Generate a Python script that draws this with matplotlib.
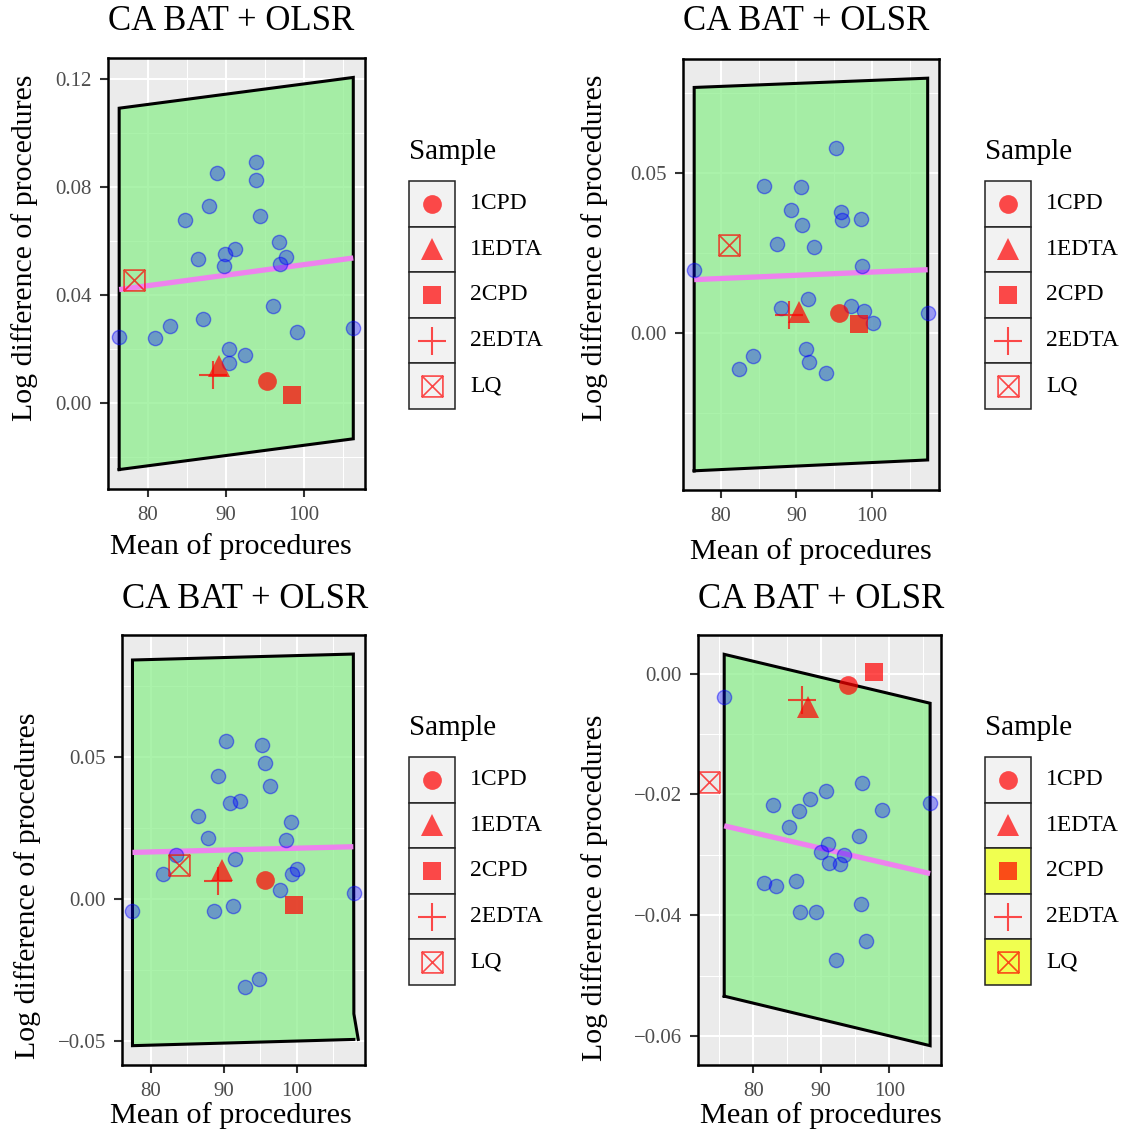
import matplotlib
matplotlib.use('Agg')
import matplotlib.pyplot as plt
from matplotlib.path import Path
from matplotlib.patches import Polygon, Rectangle
from matplotlib.ticker import FixedLocator, MultipleLocator

plt.rcParams['font.family'] = ['Liberation Serif', 'DejaVu Serif']

TITLE = "CA BAT + OLSR"
XLABEL = "Mean of procedures"
YLABEL = "Log difference of procedures"
LEGEND_TITLE = "Sample"
samples = ["1CPD", "1EDTA", "2CPD", "2EDTA", "LQ"]

# ---------------- panel 1 ----------------
p1_x = [76.3, 80.9, 82.8, 84.8, 86.4, 87.0, 87.8, 88.9, 89.8, 89.9, 91.1, 90.4,
        90.4, 92.5, 93.8, 93.8, 94.4, 96.0, 96.8, 96.9, 97.7, 99.1, 106.3]
p1_y = [0.0243, 0.0240, 0.0284, 0.0677, 0.0534, 0.0309, 0.0729, 0.0852, 0.0505,
        0.0549, 0.0569, 0.0198, 0.0148, 0.0178, 0.0892, 0.0825, 0.0692, 0.0357,
        0.0594, 0.0512, 0.0541, 0.0260, 0.0277]
p1_sx = [95.3, 89.1, 98.4, 88.3, 78.2]
p1_sy = [0.0080, 0.0136, 0.0029, 0.0103, 0.0455]
p1_band_x = [76.33, 76.33, 106.3, 106.3, 76.33]
p1_band_y = [-0.0248, 0.1091, 0.1205, -0.0134, -0.0248]
p1_fit_x = [76.33, 106.3]
p1_fit_y = [0.0419, 0.0536]
p1_xlim = [74.9, 107.8]
p1_ylim = [-0.0320, 0.1277]
p1_yticks = [0.00, 0.04, 0.08, 0.12]
p1_flag = [False, False, False, False, False]

# ---------------- panel 2 ----------------
p2_x = [76.5, 82.4, 84.3, 85.7, 87.5, 88.0, 89.3, 90.6, 90.8, 91.5, 91.3, 91.7,
        92.4, 93.9, 95.3, 95.9, 96.0, 97.3, 98.6, 98.7, 99.0, 100.2, 107.4]
p2_y = [0.0198, -0.0112, -0.0073, 0.0459, 0.0278, 0.0079, 0.0385, 0.0457, 0.0338,
        0.0107, -0.0050, -0.0090, 0.0270, -0.0126, 0.0579, 0.0377, 0.0352, 0.0084,
        0.0358, 0.0210, 0.0069, 0.0032, 0.0062]
p2_sx = [95.6, 90.3, 98.3, 89.1, 81.1]
p2_sy = [0.0062, 0.0066, 0.0028, 0.0057, 0.0276]
p2_band_x = [76.48, 76.48, 107.4, 107.4, 76.48]
p2_band_y = [-0.0431, 0.0768, 0.0797, -0.0397, -0.0431]
p2_fit_x = [76.48, 107.4]
p2_fit_y = [0.0167, 0.0198]
p2_xlim = [75.0, 108.9]
p2_ylim = [-0.0491, 0.0857]
p2_yticks = [0.00, 0.05]
p2_flag = [False, False, False, False, False]

# ---------------- panel 3 ----------------
p3_x = [77.4, 81.6, 83.4, 86.5, 87.8, 88.6, 89.2, 90.3, 90.9, 92.2, 91.5, 91.2,
        92.9, 94.8, 95.3, 95.6, 96.3, 97.7, 98.5, 99.2, 99.4, 100.0, 107.9]
p3_y = [-0.0041, 0.0089, 0.0155, 0.0292, 0.0214, -0.0043, 0.0432, 0.0555, 0.0337,
        0.0345, 0.0140, -0.0024, -0.0311, -0.0283, 0.0542, 0.0477, 0.0398, 0.0030,
        0.0209, 0.0271, 0.0087, 0.0106, 0.0022]
p3_sx = [95.7, 89.8, 99.7, 89.2, 83.9]
p3_sy = [0.0066, 0.0102, -0.0021, 0.0062, 0.0118]
p3_band_x = [107.87, 77.44, 77.44, 107.8, 107.87, 108.47]
p3_band_y = [-0.0494, -0.0516, 0.0841, 0.0862, -0.0404, -0.0494]
p3_fit_x = [77.44, 107.8]
p3_fit_y = [0.0164, 0.0184]
p3_xlim = [76.0, 109.4]
p3_ylim = [-0.0584, 0.0929]
p3_yticks = [-0.05, 0.00, 0.05]
p3_flag = [False, False, False, False, False]

# ---------------- panel 4 ----------------
p4_x = [75.7, 81.6, 82.9, 83.3, 85.3, 86.3, 86.7, 86.9, 88.4, 89.3, 89.9, 90.7,
        91.0, 91.1, 92.2, 92.8, 93.3, 95.6, 96.0, 95.9, 96.6, 99.0, 106.0]
p4_y = [-0.0039, -0.0347, -0.0217, -0.0352, -0.0254, -0.0344, -0.0227, -0.0395,
        -0.0207, -0.0395, -0.0296, -0.0194, -0.0282, -0.0314, -0.0474, -0.0316,
        -0.0300, -0.0268, -0.0181, -0.0382, -0.0442, -0.0226, -0.0214]
p4_sx = [94.0, 88.0, 97.8, 87.2, 73.5]
p4_sy = [-0.0018, -0.0056, 0.0002, -0.0043, -0.0180]
p4_band_x = [75.75, 75.75, 106.0, 106.0, 75.75]
p4_band_y = [-0.0534, 0.0032, -0.0049, -0.0616, -0.0534]
p4_fit_x = [75.75, 106.0]
p4_fit_y = [-0.0252, -0.0331]
p4_xlim = [71.9, 107.6]
p4_ylim = [-0.0648, 0.0064]
p4_yticks = [-0.06, -0.04, -0.02, 0.00]
p4_flag = [False, False, True, False, True]

xticks = [80, 90, 100]

# ---------------- styles ----------------
W, H = 1130, 1133
RED = (1, 0, 0, 0.7)
BAND_FILL = (144/255, 238/255, 144/255, 0.76)
PANEL_BG = '#EBEBEB'
KEY_BG = '#F2F2F2'
KEY_HI = '#F0FF50'

sqx_path = Path([(-1, -1), (1, -1), (1, 1), (-1, 1), (-1, -1),
                 (-1, -1), (1, 1), (-1, 1), (1, -1)],
                [Path.MOVETO, Path.LINETO, Path.LINETO, Path.LINETO, Path.CLOSEPOLY,
                 Path.MOVETO, Path.LINETO, Path.MOVETO, Path.LINETO])

marker_style = {
    "1CPD": dict(marker='o', ms=13.5, mfc=RED, mec='none', mew=0),
    "1EDTA": dict(marker='^', ms=16.5, mfc=RED, mec='none', mew=0),
    "2CPD": dict(marker='s', ms=13.5, mfc=RED, mec='none', mew=0),
    "2EDTA": dict(marker='+', ms=20, mec=RED, mew=1.5),
    "LQ": dict(marker=sqx_path, ms=15, mfc='none', mec=RED, mew=1.2),
}

panels = [
    dict(x=p1_x, y=p1_y, sx=p1_sx, sy=p1_sy, bx=p1_band_x, by=p1_band_y,
         fx=p1_fit_x, fy=p1_fit_y, xlim=p1_xlim, ylim=p1_ylim, yt=p1_yticks,
         flag=p1_flag, ax_px=(108, 365, 58, 489), title_y=22, xlab=(231, 547),
         ylab=(25, 248), leg=(409, 152, 181)),
    dict(x=p2_x, y=p2_y, sx=p2_sx, sy=p2_sy, bx=p2_band_x, by=p2_band_y,
         fx=p2_fit_x, fy=p2_fit_y, xlim=p2_xlim, ylim=p2_ylim, yt=p2_yticks,
         flag=p2_flag, ax_px=(683, 939, 59, 490), title_y=22, xlab=(811, 552),
         ylab=(595, 248), leg=(985, 152, 181)),
    dict(x=p3_x, y=p3_y, sx=p3_sx, sy=p3_sy, bx=p3_band_x, by=p3_band_y,
         fx=p3_fit_x, fy=p3_fit_y, xlim=p3_xlim, ylim=p3_ylim, yt=p3_yticks,
         flag=p3_flag, ax_px=(122, 365, 635, 1065), title_y=599, xlab=(231, 1116),
         ylab=(28, 886), leg=(409, 728, 757)),
    dict(x=p4_x, y=p4_y, sx=p4_sx, sy=p4_sy, bx=p4_band_x, by=p4_band_y,
         fx=p4_fit_x, fy=p4_fit_y, xlim=p4_xlim, ylim=p4_ylim, yt=p4_yticks,
         flag=p4_flag, ax_px=(698, 941, 635, 1065), title_y=599, xlab=(821, 1116),
         ylab=(595, 888), leg=(985, 728, 757)),
]

fig = plt.figure(figsize=(W / 100, H / 100), dpi=100)
fig.patch.set_facecolor('white')

lax = fig.add_axes([0, 0, 1, 1], zorder=10)
lax.set_xlim(0, W)
lax.set_ylim(H, 0)
lax.axis('off')
lax.patch.set_alpha(0)


def fmt(v):
    s = f"{v:.2f}"
    return s.replace('-', '\u2212')


for p in panels:
    l, r, t, b = p['ax_px']
    ax = fig.add_axes([l / W, 1 - b / H, (r - l) / W, (b - t) / H])
    ax.set_facecolor(PANEL_BG)
    ax.set_xlim(p['xlim'])
    ax.set_ylim(p['ylim'])
    ax.xaxis.set_major_locator(FixedLocator(xticks))
    ax.xaxis.set_minor_locator(FixedLocator([75, 85, 95, 105]))
    yt = p['yt']
    step = yt[1] - yt[0]
    ax.yaxis.set_major_locator(FixedLocator(yt))
    ax.yaxis.set_minor_locator(MultipleLocator(step / 2))
    ax.set_xticklabels([str(v) for v in xticks])
    ax.set_yticklabels([fmt(v) for v in yt])
    ax.grid(which='major', color='white', lw=1.5, zorder=0)
    ax.grid(which='minor', color='white', lw=0.75, zorder=0)
    ax.set_axisbelow(True)
    ax.tick_params(which='major', direction='out', length=5.5, width=1.5,
                   color='#333333', labelcolor='#4D4D4D', labelsize=15)
    ax.tick_params(axis='x', which='major', pad=6.5)
    ax.tick_params(axis='y', which='major', pad=6)
    ax.tick_params(which='minor', length=0)
    for s in ax.spines.values():
        s.set_color('black')
        s.set_linewidth(1.8)
        s.set_zorder(6)

    verts = list(zip(p['bx'], p['by']))
    ax.add_patch(Polygon(verts, closed=True, facecolor=BAND_FILL, edgecolor='none', zorder=1))
    ax.plot(p['bx'], p['by'], color='black', lw=2.2, zorder=2, solid_joinstyle='miter')
    ax.plot(p['fx'], p['fy'], color='violet', lw=3.8, zorder=3, solid_capstyle='butt')
    ax.scatter(p['x'], p['y'], s=105, facecolor=(0, 0, 1, 0.35),
               edgecolor=(0, 0, 1, 0.45), linewidth=1.0, zorder=4, clip_on=False)
    for name, sx, sy in zip(samples, p['sx'], p['sy']):
        ax.plot([sx], [sy], linestyle='none', zorder=5, clip_on=False, **marker_style[name])

    fig.text(l / W, 1 - p['title_y'] / H, TITLE, ha='left', va='center',
             fontsize=25, color='black')
    fig.text(p['xlab'][0] / W, 1 - p['xlab'][1] / H, XLABEL, ha='center', va='center',
             fontsize=21.8, color='black')
    fig.text(p['ylab'][0] / W, 1 - p['ylab'][1] / H, YLABEL, ha='center', va='center',
             rotation=90, fontsize=21.5, color='black')

    # legend
    lx, ty, ky = p['leg']
    kh = 45.6
    kw = 46
    lax.text(lx, ty, LEGEND_TITLE, ha='left', va='center', fontsize=21, color='black')
    for i, name in enumerate(samples):
        y0 = ky + i * kh
        bg = KEY_HI if p['flag'][i] else KEY_BG
        lax.add_patch(Rectangle((lx, y0), kw, kh, facecolor=bg, edgecolor='#222222', lw=1.1))
        lax.plot([lx + kw / 2], [y0 + kh / 2], linestyle='none', **marker_style[name])
        lax.text(lx + 61, y0 + kh / 2, name, ha='left', va='center', fontsize=17, color='black')

fig.savefig('out.png', dpi=100, facecolor='white')
